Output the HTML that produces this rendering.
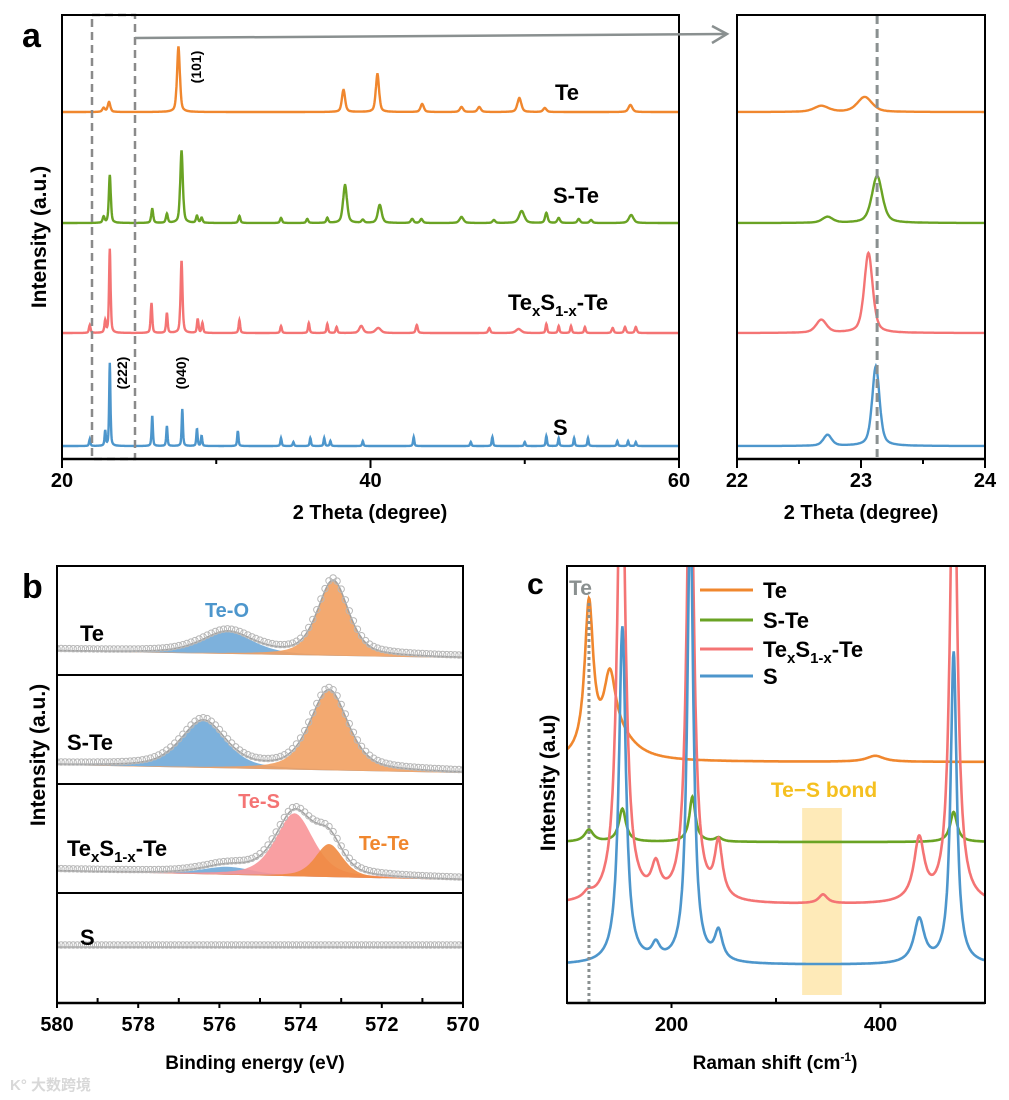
<!DOCTYPE html>
<html><head><meta charset="utf-8"><style>
body{margin:0;background:#fff;}
svg{display:block;font-family:"Liberation Sans",Arial,sans-serif;font-weight:bold;}
</style></head><body>
<svg id="fig" width="1009" height="1100" viewBox="0 0 1009 1100" xmlns="http://www.w3.org/2000/svg">
<defs>
<clipPath id="clipA"><rect x="62" y="15" width="617" height="444"/></clipPath>
<clipPath id="clipI"><rect x="737" y="15" width="248" height="444"/></clipPath>
<clipPath id="clipB"><rect x="57" y="566" width="406" height="437"/></clipPath>
<clipPath id="clipC"><rect x="567" y="566" width="418" height="437"/></clipPath>
</defs>
<g id="gA"></g>
<g id="gI"></g>
<g id="gB"></g>
<g id="gC"></g>
</svg>
<script>
// ---------- Panel a data ----------
const xrdSeries = ["Te","S-Te","TexS1-x-Te","S"];
const xrdBase = [112,223,333,446];
const xrdTe = [[22.7,4,0.2],[23.05,10,0.2],[27.55,65,0.22],[38.25,22,0.25],[40.45,38,0.25],[43.35,8,0.25],[45.9,5,0.25],[47.05,5,0.25],[49.65,14,0.3],[51.3,4,0.25],[56.85,7,0.3]];
const xrdSTe = [[22.7,6,0.15],[23.1,48,0.15],[25.85,14,0.15],[26.8,9,0.15],[27.75,72,0.2],[28.75,7,0.15],[29.05,5,0.15],[31.5,7,0.15],[34.2,5,0.15],[35.9,4,0.15],[37.2,5,0.15],[38.35,38,0.3],[39.5,3,0.2],[40.6,18,0.3],[42.7,4,0.2],[43.3,4,0.2],[45.9,6,0.3],[48.0,3,0.2],[49.8,12,0.4],[51.4,10,0.2],[52.2,5,0.2],[53.5,4,0.2],[54.3,3,0.2],[56.9,8,0.35]];
const xrdTeS = [[21.8,8,0.12],[22.8,12,0.12],[23.1,84,0.12],[25.8,30,0.12],[26.8,20,0.12],[27.75,72,0.15],[28.8,14,0.12],[29.1,10,0.12],[31.5,13,0.12],[34.2,7,0.12],[36.0,10,0.12],[37.2,9,0.12],[37.8,6,0.12],[39.4,7,0.3],[40.5,5,0.4],[43.0,8,0.15],[47.7,5,0.15],[49.6,4,0.4],[51.4,9,0.12],[52.2,7,0.12],[53.0,7,0.12],[53.9,6,0.12],[55.7,5,0.15],[56.5,6,0.15],[57.2,6,0.15]];
const xrdS = [[21.8,7,0.1],[22.8,15,0.1],[23.1,83,0.1],[25.85,30,0.1],[26.8,20,0.1],[27.8,37,0.1],[28.75,17,0.1],[29.05,10,0.1],[31.4,15,0.1],[34.2,8,0.1],[35.0,4,0.1],[36.1,8,0.1],[37.0,8,0.1],[37.4,5,0.1],[39.5,5,0.1],[42.8,9,0.1],[46.5,4,0.1],[47.9,9,0.1],[50.0,4,0.1],[51.4,10,0.1],[52.2,8,0.1],[53.2,8,0.1],[54.1,8,0.1],[56.0,5,0.1],[56.7,5,0.1],[57.2,4,0.1]];
const xrdPeaks = [xrdTe,xrdSTe,xrdTeS,xrdS];
const xrdTicks = [20,40,60];
// inset
const insetPeaks = [
 [[22.68,6,0.14],[23.03,15,0.14]],
 [[22.73,6,0.1],[23.13,47,0.1]],
 [[22.68,13,0.1],[23.06,80,0.08]],
 [[22.73,11,0.08],[23.12,80,0.07]]];
const insetTicks = [22,23,24];
const insetLine = 23.13;
// ---------- Panel b data ----------
const xpsRows = ["Te","S-Te","TexS1-x-Te","S"];
const xpsBaseL = [651,765,871,947];
const xpsBaseR = [658,773,880,947];
const xpsTe = [[575.8,22,1.5,"blue"],[573.2,75,0.9,"orange"]];
const xpsSTe = [[576.4,47,1.3,"blue"],[573.3,80,1.1,"orange"]];
const xpsTeS = [[575.8,8,1.5,"blue"],[574.15,63,1.1,"pink"],[573.3,33,0.8,"orange2"]];
const xpsS = [];
const xpsComps = [xpsTe,xpsSTe,xpsTeS,xpsS];
const xpsTicks = [580,578,576,574,572,570];
// ---------- Panel c data ----------
const ramanSeries = ["Te","S-Te","TexS1-x-Te","S"];
const ramanBase = [762,842,905,965];
const ramanTe = [[121,150,10],[141,68,14],[150,20,40],[395,6,20]];
const ramanSTe = [[121,12,10],[153,33,8],[220,45,7],[245,4,8],[470,30,8]];
const ramanTeS = [[120,6,10],[152,500,9],[185,30,10],[218,500,8],[245,55,9],[345,9,10],[437,62,12],[470,500,8]];
const ramanS = [[153,337,8],[185,15,9],[218,450,7],[245,29,9],[437,44,12],[470,312,7]];
const ramanPeaks = [ramanTe,ramanSTe,ramanTeS,ramanS];
const ramanTicks = [200,400];
const ramanBand = [325,363];

const colors = ["#f0872e","#6aa324","#f47474","#4d96cc"];
const NS="http://www.w3.org/2000/svg";
function mk(tag,attrs,parent,text){const e=document.createElementNS(NS,tag);for(const k in attrs)e.setAttribute(k,attrs[k]);if(text!==undefined)e.textContent=text;parent.appendChild(e);return e;}
function pv(x,c,w){const d=(x-c)/(w/2);return 0.5/(1+d*d)+0.5*Math.exp(-0.693*d*d);}
function lor(x,c,w){const d=(x-c)/(w/2);return 1/(1+d*d);}

// ---------- Panel a ----------
const gA=document.getElementById('gA');
const xA=v=>62+(v-20)/40*617;
const xI=v=>737+(v-22)/2*248;
function tracePath(peaks,base,x0,x1,step,sx){let d="";for(let v=x0;v<=x1+1e-9;v+=step){let y=base;for(const p of peaks)y-=p[1]*pv(v,p[0],p[2]);d+=(d?"L":"M")+sx(v).toFixed(1)+","+y.toFixed(1);}return d;}
const clA=mk('g',{'clip-path':'url(#clipA)'},gA);
xrdPeaks.forEach((pk,i)=>{
 const p=mk('path',{d:tracePath(pk,xrdBase[i],20,60,0.02,xA),fill:'none',stroke:colors[i],'stroke-width':2.4},clA);
 
 
});
let r=mk('rect',{x:92,y:15,width:43,height:444,fill:'none',stroke:'#8a8a8a','stroke-width':2.5,'stroke-dasharray':'8,5'},gA);

mk('rect',{x:62,y:15,width:617,height:444,fill:'none',stroke:'#000','stroke-width':2},gA);
mk('line',{x1:62,y1:459,x2:679,y2:459,stroke:'#000','stroke-width':2.5},gA);
[20,30,40,50,60].forEach(v=>mk('line',{x1:xA(v),y1:459,x2:xA(v),y2:v%20?464:468,stroke:'#000','stroke-width':2},gA));
xrdTicks.forEach(v=>{const t=mk('text',{x:xA(v),y:487,'font-size':20,'text-anchor':'middle'},gA,v);});
let t=mk('text',{x:370,y:519,'font-size':20,'text-anchor':'middle'},gA,'2 Theta (degree)');
t=mk('text',{x:0,y:0,'font-size':21,'text-anchor':'middle',transform:'translate(46,237) rotate(-90)'},gA,'Intensity (a.u.)');
t=mk('text',{x:22,y:47,'font-size':34},gA,'a');
const lblA=[["Te",555,100],["S-Te",553,203],["S",553,435]];
lblA.forEach(l=>{const e=mk('text',{x:l[1],y:l[2],'font-size':22},gA,l[0]);});
t=mk('text',{x:508,y:310,'font-size':22},gA);
t.innerHTML='Te<tspan font-size="15" dy="6">x</tspan><tspan dy="-6">S</tspan><tspan font-size="15" dy="6">1-x</tspan><tspan dy="-6">-Te</tspan>';
[["(101)",201,67],["(222)",127,373],["(040)",186,373]].forEach(a=>{const e=mk('text',{x:0,y:0,'font-size':14,'text-anchor':'middle',transform:`translate(${a[1]},${a[2]}) rotate(-90)`},gA,a[0]);});
mk('line',{x1:135,y1:38,x2:725,y2:34,stroke:'#8a9090','stroke-width':2.5},gA);
mk('path',{d:'M712,26 L727,34 L712,43',fill:'none',stroke:'#8a9090','stroke-width':2.5},gA);

// inset
const gI=document.getElementById('gI');
const clI=mk('g',{'clip-path':'url(#clipI)'},gI);
insetPeaks.forEach((pk,i)=>{
 const p=mk('path',{d:tracePath(pk,xrdBase[i],22,24,0.005,xI),fill:'none',stroke:colors[i],'stroke-width':2.4},clI);
 
 
});
mk('line',{x1:xI(insetLine),y1:15,x2:xI(insetLine),y2:457,stroke:'#8a9090','stroke-width':3,'stroke-dasharray':'9,5'},gI);
mk('rect',{x:737,y:15,width:248,height:444,fill:'none',stroke:'#000','stroke-width':2},gI);
mk('line',{x1:737,y1:459,x2:985,y2:459,stroke:'#000','stroke-width':2.5},gI);
[22,22.5,23,23.5,24].forEach(v=>mk('line',{x1:xI(v),y1:459,x2:xI(v),y2:v%1?464:468,stroke:'#000','stroke-width':2},gI));
insetTicks.forEach(v=>{const e=mk('text',{x:xI(v),y:487,'font-size':20,'text-anchor':'middle'},gI,v);});
t=mk('text',{x:861,y:519,'font-size':20,'text-anchor':'middle'},gI,'2 Theta (degree)');

// ---------- Panel b ----------
const gB=document.getElementById('gB');
const xB=v=>57+(580-v)/10*406;
const fills={blue:'#6fa8d8',orange:'#f2a060',pink:'#f89598',orange2:'#f08a40'};
const clB=mk('g',{'clip-path':'url(#clipB)'},gB);
xpsComps.forEach((comps,i)=>{
 const base=v=>xpsBaseL[i]+(580-v)/10*(xpsBaseR[i]-xpsBaseL[i]);
 comps.forEach(c=>{
  let d="";for(let v=580;v>=570-1e-9;v-=0.05){d+=(d?"L":"M")+xB(v).toFixed(1)+","+(base(v)-c[1]*pv(v,c[0],c[2])).toFixed(1);}
  d+="L"+xB(570)+","+base(570)+"L"+xB(580)+","+base(580)+"Z";
  const p=mk('path',{d:d,fill:fills[c[3]],'fill-opacity':0.9,stroke:'none'},clB);
  
  
 });
 let env="";const pts=[];
 for(let v=580;v>=570-1e-9;v-=0.05){let y=base(v);for(const c of comps)y-=c[1]*pv(v,c[0],c[2]);env+=(env?"L":"M")+xB(v).toFixed(1)+","+y.toFixed(1);pts.push([xB(v),y]);}
 mk('path',{d:env,fill:'none',stroke:'#a0a0a0','stroke-width':1.5},clB);
 const cg=mk('g',{fill:'none',stroke:'#b8b8b8','stroke-width':1},clB);
 
 pts.forEach((p,k)=>{if(k%2===0)mk('circle',{cx:p[0].toFixed(1),cy:(p[1]-2).toFixed(1),r:3.2},cg);});
});
mk('rect',{x:57,y:566,width:406,height:437,fill:'none',stroke:'#000','stroke-width':2},gB);
[675,784,893].forEach(y=>mk('line',{x1:57,y1:y,x2:463,y2:y,stroke:'#000','stroke-width':2},gB));
mk('line',{x1:57,y1:1003,x2:463,y2:1003,stroke:'#000','stroke-width':2.5},gB);
for(let v=580;v>=570;v--)mk('line',{x1:xB(v),y1:1003,x2:xB(v),y2:v%2?998:1008,stroke:'#000','stroke-width':2},gB);
xpsTicks.forEach(v=>{const e=mk('text',{x:xB(v),y:1031,'font-size':20,'text-anchor':'middle'},gB,v);});
t=mk('text',{x:255,y:1069,'font-size':19,'text-anchor':'middle'},gB,'Binding energy (eV)');
t=mk('text',{x:0,y:0,'font-size':21,'text-anchor':'middle',transform:'translate(45,755) rotate(-90)'},gB,'Intensity (a.u.)');
t=mk('text',{x:22,y:598,'font-size':34},gB,'b');
[["Te",80,641],["S-Te",67,750],["S",80,945]].forEach(l=>{const e=mk('text',{x:l[1],y:l[2],'font-size':22},gB,l[0]);});
t=mk('text',{x:67,y:856,'font-size':22},gB);
t.innerHTML='Te<tspan font-size="15" dy="6">x</tspan><tspan dy="-6">S</tspan><tspan font-size="15" dy="6">1-x</tspan><tspan dy="-6">-Te</tspan>';
[["Te-O",227,617,'#4d96cc'],["Te-S",259,808,'#f47474'],["Te-Te",384,850,'#f0872e']].forEach(l=>{const e=mk('text',{x:l[1],y:l[2],'font-size':20,'text-anchor':'middle',fill:l[3]},gB,l[0]);});
t=mk('text',{x:10,y:1090,'font-size':15,fill:'#d8d8d8','font-family':'"Liberation Sans","Noto Sans CJK SC",sans-serif'},gB,'K° 大数跨境');

// ---------- Panel c ----------
const gC=document.getElementById('gC');
const xC=v=>567+(v-100)/400*418;
const band=mk('rect',{x:xC(ramanBand[0]),y:808,width:xC(ramanBand[1])-xC(ramanBand[0]),height:187,fill:'#fde3a0','fill-opacity':0.75},gC);

const clC=mk('g',{'clip-path':'url(#clipC)'},gC);
ramanPeaks.forEach((pk,i)=>{
 let d="";for(let v=100;v<=500;v+=0.5){let y=ramanBase[i];for(const p of pk)y-=p[1]*lor(v,p[0],p[2]);d+=(d?"L":"M")+xC(v).toFixed(1)+","+y.toFixed(1);}
 const p=mk('path',{d:d,fill:'none',stroke:colors[i],'stroke-width':2.6},clC);
 
 
});
mk('line',{x1:xC(121),y1:603,x2:xC(121),y2:1003,stroke:'#8a9090','stroke-width':3,'stroke-dasharray':'3,3'},gC);
mk('rect',{x:567,y:566,width:418,height:437,fill:'none',stroke:'#000','stroke-width':2},gC);
mk('line',{x1:567,y1:1003,x2:985,y2:1003,stroke:'#000','stroke-width':2.5},gC);
[100,200,300,400,500].forEach(v=>mk('line',{x1:xC(v),y1:1003,x2:xC(v),y2:v%200?998:1008,stroke:'#000','stroke-width':2},gC));
ramanTicks.forEach(v=>{const e=mk('text',{x:xC(v),y:1031,'font-size':20,'text-anchor':'middle'},gC,v);});
t=mk('text',{x:775,y:1069,'font-size':19,'text-anchor':'middle'},gC);
t.innerHTML='Raman shift (cm<tspan font-size="12" dy="-8">-1</tspan><tspan dy="8">)</tspan>';
t=mk('text',{x:0,y:0,'font-size':21,'text-anchor':'middle',transform:'translate(555,783) rotate(-90)'},gC,'Intensity (a.u)');
t=mk('text',{x:527,y:594,'font-size':30},gC,'c');
t=mk('text',{x:569,y:595,'font-size':21,fill:'#8a9090'},gC,'Te');
t=mk('text',{x:824,y:797,'font-size':21,'text-anchor':'middle',fill:'#f5c020'},gC,'Te−S bond');
const legY=[590,620,649,676];
ramanSeries.forEach((s,i)=>{
 const g=mk('g',{},gC);
 
 
 mk('line',{x1:700,y1:legY[i],x2:753,y2:legY[i],stroke:colors[i],'stroke-width':3},g);
 const tx=mk('text',{x:763,y:legY[i]+8,'font-size':22},g);
 if(i===2)tx.innerHTML='Te<tspan font-size="15" dy="6">x</tspan><tspan dy="-6">S</tspan><tspan font-size="15" dy="6">1-x</tspan><tspan dy="-6">-Te</tspan>';
 else tx.textContent=s;
});
</script>
</body></html>
